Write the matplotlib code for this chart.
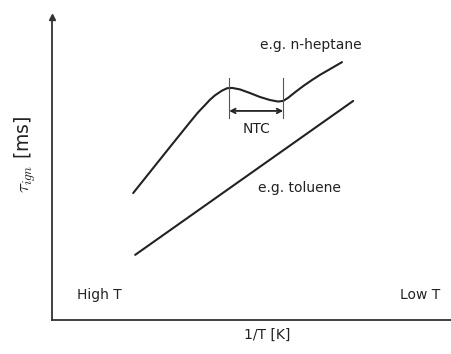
import numpy as np
import matplotlib
matplotlib.use("Agg")
import matplotlib.pyplot as plt

plt.rcParams['font.family'] = ['DejaVu Sans']
plt.rcParams['mathtext.fontset'] = 'cm'

# sketch of ignition delay vs inverse temperature (arbitrary units)
heptane_x = [2.03, 2.95, 3.45, 3.65, 3.83, 3.95, 4.08, 4.25, 4.38, 4.50,
             4.70, 4.95, 5.20, 5.45, 5.65, 5.78, 5.90, 6.08, 6.28, 6.50,
             6.70, 6.95, 7.25]
heptane_y = [4.19, 5.71, 6.53, 6.85, 7.10, 7.27, 7.42, 7.57, 7.65, 7.66,
             7.61, 7.49, 7.36, 7.26, 7.21, 7.23, 7.33, 7.52, 7.72, 7.92,
             8.09, 8.28, 8.51]
toluene_x = [2.08, 7.53]
toluene_y = [2.15, 7.23]

# NTC region bounds
ntc_start = 4.43
ntc_end = 5.78

ink = '#222222'

fig = plt.figure(figsize=(4.52, 3.54), dpi=100)
ax = fig.add_axes([0.115, 0.096, 0.885, 0.856])
ax.set_xlim(0, 10)
ax.set_ylim(0, 10)

ax.plot(heptane_x, heptane_y, color=ink, lw=1.5, solid_capstyle='round',
        solid_joinstyle='round')
ax.plot(toluene_x, toluene_y, color=ink, lw=1.5, solid_capstyle='round')

# NTC markers and span arrow
for xv in (ntc_start, ntc_end):
    ax.plot([xv, xv], [6.67, 7.99], color='#555555', lw=0.8)
ax.annotate('', xy=(ntc_start, 6.90), xytext=(ntc_end, 6.90),
            arrowprops=dict(arrowstyle='<->', color=ink, lw=1.3,
                            shrinkA=0, shrinkB=0, mutation_scale=8))
ax.text((ntc_start + ntc_end) / 2, 6.32, 'NTC', ha='center', va='center',
        fontsize=10, color=ink)

ax.text(5.2, 9.08, 'e.g. n-heptane', ha='left', va='center', fontsize=10, color=ink)
ax.text(5.15, 4.36, 'e.g. toluene', ha='left', va='center', fontsize=10, color=ink)
ax.text(0.62, 0.83, 'High T', ha='left', va='center', fontsize=10, color=ink)
ax.text(9.7, 0.83, 'Low T', ha='right', va='center', fontsize=10, color=ink)

ax.set_xticks([])
ax.set_yticks([])
for side in ('top', 'right'):
    ax.spines[side].set_visible(False)
for side in ('left', 'bottom'):
    ax.spines[side].set_color('#333333')
    ax.spines[side].set_linewidth(1.3)
ax.plot(0, 1, marker='^', color='#333333', markersize=4,
        transform=ax.transAxes, clip_on=False)

ax.set_xlabel('1/T [K]', fontsize=10, color=ink)
ax.xaxis.set_label_coords(0.5375, -0.026)
ax.set_ylabel(r'$\tau_{ign}$ [ms]', fontsize=13.5, color=ink)
ax.yaxis.set_label_coords(-0.035, 0.548)

fig.savefig('out.png', dpi=100)
